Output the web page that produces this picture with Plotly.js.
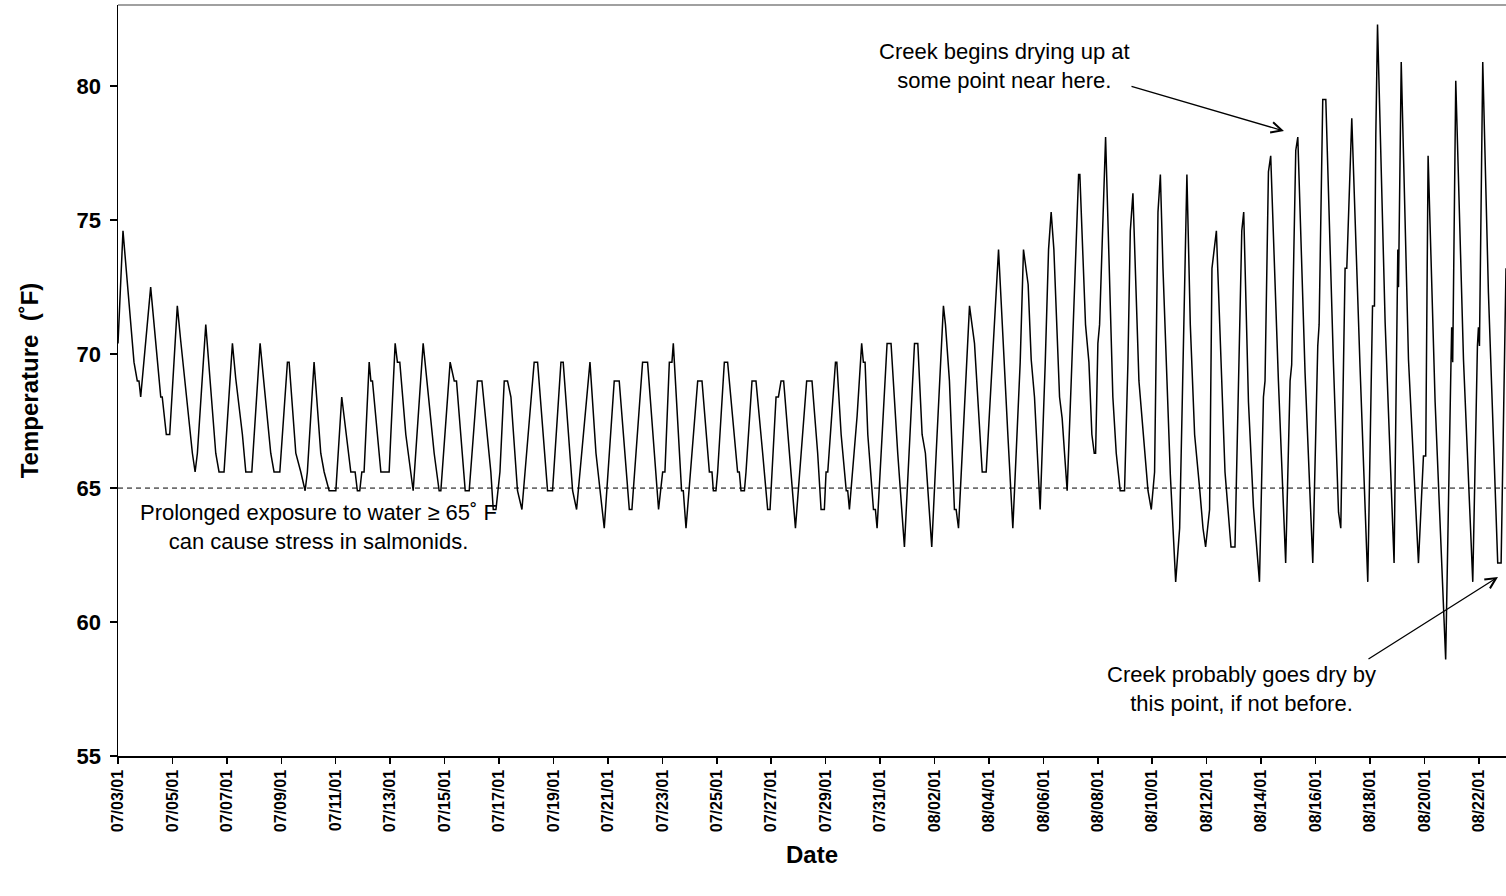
<!DOCTYPE html>
<html>
<head>
<meta charset="utf-8">
<script src="https://cdn.plot.ly/plotly-3.0.1.min.js"></script>
<style>html,body{margin:0;padding:0;background:#fff;}#chart{width:1506px;height:896px;}</style>
</head>
<body>
<div id="chart"></div>
<script>
// Hours elapsed since 07/03/01 00:00
const hoursSinceStart = [
0,4.4,14.1,17.0,18.5,20.0,28.8,37.7,39.0,42.6,45.6,52.3,55.3,65.6,68.0,70.0,77.4,86.2,89.1,93.5,
100.9,103.8,109.7,112.7,118.0,125.3,134.7,137.6,142.7,149.4,150.9,156.8,161.2,165.0,167.0,172.9,178.8,181.8,186.2,192.1,
197.3,205.3,209.1,211.1,213.2,215.0,217.0,221.5,223.0,224.4,231.8,239.1,240.6,244.4,246.4,248.5,253.8,260.3,269.1,278.8,
283.2,284.7,292.9,296.5,298.5,306.2,309.7,317.0,320.9,328.8,330.9,333.3,336.8,340.6,343.5,346.5,352.3,356.2,367.0,370.0,
378.8,383.2,390.6,392.6,400.9,404.4,416.2,421.5,428.8,437.6,442.0,450.9,453.2,462.6,467.0,471.5,476.7,480.3,482.3,486.2,
488.5,489.7,497.0,498.5,500.9,511.2,515.0,521.5,523.8,525.0,527.3,528.8,534.7,537.6,546.4,547.9,549.4,552.4,553.8,559.1,
562.6,568.5,572.9,575.0,580.3,582.4,584.7,587.0,597.4,607.3,612.0,617.0,620.0,622.9,624.4,625.9,632.7,633.9,637.7,642.2,
643.5,645.0,649.4,651.8,655.8,657.3,658.8,661.2,666.2,667.9,669.4,678.2,681.7,687.6,693.5,702.4,705.3,709.1,712.0,717.6,
721.5,727.9,729.7,733.2,737.6,739.1,741.2,750.9,755.3,762.1,765.6,776.5,784.7,789.1,795.6,798.5,802.6,805.3,808.2,813.2,
817.7,820.6,822.9,825.3,830.3,832.6,834.7,837.0,840.6,843.5,847.1,848.2,853.2,856.2,858.8,860.9,862.1,864.1,865.6,870.9,
877.3,880.3,883.8,887.6,890.6,892.7,895.0,900.3,903.9,908.3,911.2,914.1,917.1,919.2,921.5,924.5,928.0,932.7,936.2,938.6,
942.6,945.6,949.4,953.8,956.8,959.1,962.6,964.7,968.6,976.2,981.5,985.0,987.4,991.0,992.7,996.9,1001.3,1006.6,1010.1,1011.5,
1014.5,1016.5,1023.3,1029.7,1033.6,1035.0,1038.6,1040.4,1046.8,1053.6,1058.0,1059.2,1062.4,1065.1,1071.8,1076.3,1078.3,1082.1,1083.6,1088.0,
1095.3,1102.1,1106.3,1108.0,1109.2,1110.7,1117.4,1125.3,1128.6,1129.2,1131.6,1138.0,1146.8,1151.2,1153.2,1155.3,1161.5,1170.8,1175.5,1176.1,
1177.0,1179.7,1186.5,1194.7,1198.8,1199.7,1200.6,1203.5,1208.5,1216.7,1219.7,1224.0
];
// Water temperature (°F)
const temperatureF = [
70.4,74.6,69.7,69.0,69.0,68.4,72.5,68.4,68.4,67.0,67.0,71.8,70.5,66.3,65.6,66.3,71.1,66.3,65.6,65.6,
70.4,69.1,67.0,65.6,65.6,70.4,66.3,65.6,65.6,69.7,69.7,66.3,65.6,64.9,65.6,69.7,66.3,65.6,64.9,64.9,
68.4,65.6,65.6,64.9,64.9,65.6,65.6,69.7,69.0,69.0,65.6,65.6,67.0,70.4,69.7,69.7,67.0,64.9,70.4,66.3,
64.9,64.9,69.7,69.0,69.0,64.9,64.9,69.0,69.0,65.6,64.2,64.2,65.6,69.0,69.0,68.4,64.9,64.2,69.7,69.7,
64.9,64.9,69.7,69.7,64.9,64.2,69.7,66.3,63.5,69.0,69.0,64.2,64.2,69.7,69.7,67.0,64.2,65.6,65.6,69.7,
69.7,70.4,64.9,64.9,63.5,69.0,69.0,65.6,65.6,64.9,64.9,65.6,69.7,69.7,65.6,65.6,64.9,64.9,65.6,69.0,
69.0,66.3,64.2,64.2,68.4,68.4,69.0,69.0,63.5,69.0,69.0,66.3,64.2,64.2,65.6,65.6,69.7,69.7,67.0,64.9,
64.9,64.2,66.3,67.7,70.4,69.7,69.7,67.0,64.2,64.2,63.5,70.4,70.4,66.3,62.8,70.4,70.4,67.0,66.3,62.8,
66.3,71.8,71.1,69.0,64.2,64.2,63.5,71.8,70.4,65.6,65.6,73.9,67.0,63.5,69.7,73.9,72.6,69.8,68.4,64.2,
69.7,73.9,75.3,73.9,68.4,67.6,66.3,64.9,69.0,72.4,76.7,76.7,71.1,69.7,67.0,66.3,66.3,70.4,71.1,78.1,
68.4,66.3,64.9,64.9,69.7,74.6,76.0,69.0,67.0,64.9,64.2,65.6,75.3,76.7,73.2,69.7,65.5,61.5,63.5,68.4,
76.7,71.1,67.0,65.0,63.5,62.8,64.2,73.2,74.6,65.6,62.8,62.8,67.7,74.6,75.3,68.2,64.3,61.5,68.4,69.0,
76.8,77.4,69.0,62.2,69.0,69.6,77.6,78.1,69.3,62.2,70.3,71.1,79.5,79.5,69.7,64.1,63.5,73.2,73.2,78.8,
69.5,61.5,71.8,71.8,78.2,82.3,71.2,62.2,73.9,72.5,80.9,69.8,62.2,66.2,66.2,77.4,68.2,58.6,69.7,71.0,
69.7,80.2,69.8,61.5,70.3,71.0,70.3,80.9,72.3,62.2,62.2,73.2
];
const stressThresholdF = 65;
const axisTitles = { x: 'Date', y: 'Temperature\u00a0\u00a0(˚F)' };
const noteThreshold = 'Prolonged exposure to water ≥ 65˚ F<br>can cause stress in salmonids.';
const noteDrying = 'Creek begins drying up at<br>some point near here.';
const noteDry = 'Creek probably goes dry by<br>this point, if not before.';

const startMs = Date.UTC(2001, 6, 3, 0, 0, 0);
function toDateStr(h) {
  return new Date(startMs + h * 3600000).toISOString().replace('T', ' ').replace('Z', '');
}
const xDates = hoursSinceStart.map(toDateStr);

const FONT = 'Liberation Sans, Arial, sans-serif';
const L = 118, T = 5, W = 1506, H = 896, B = 140;
const plotW = W - L, plotH = H - T - B;
function px(x) { return (x - L) / plotW; }
function py(y) { return (H - B - y) / plotH; }

const trace = {
  x: xDates, y: temperatureF, type: 'scatter', mode: 'lines',
  line: { color: '#000', width: 1.5 }, hoverinfo: 'x+y', showlegend: false
};

const noteFont = { family: FONT, size: 22, color: '#000' };

const layout = {
  width: W, height: H,
  margin: { l: L, r: 0, t: T, b: B, pad: 0 },
  paper_bgcolor: '#fff', plot_bgcolor: '#fff',
  font: { family: FONT, color: '#000' },
  showlegend: false,
  xaxis: {
    type: 'date',
    range: ['2001-07-03 00:00', '2001-08-23 00:00'],
    tick0: '2001-07-03', dtick: 2 * 86400000,
    tickformat: '%m/%d/%y', tickangle: -90,
    ticks: 'outside', ticklen: 6, tickwidth: 1.5, tickcolor: '#000',
    tickfont: { family: FONT, size: 16, weight: 'bold', color: '#000' },
    showline: true, linecolor: '#000', linewidth: 1.5,
    showgrid: false, zeroline: false,
    title: { text: axisTitles.x, font: { family: FONT, size: 24, weight: 'bold', color: '#000' }, standoff: 15 }
  },
  yaxis: {
    range: [55, 83.03],
    tick0: 55, dtick: 5,
    ticks: 'outside', ticklen: 7, tickwidth: 1.5, tickcolor: '#000',
    ticklabelstandoff: 4,
    tickfont: { family: FONT, size: 22, weight: 'bold', color: '#000' },
    showline: true, linecolor: '#000', linewidth: 1.5,
    showgrid: false, zeroline: false,
    title: { text: axisTitles.y, font: { family: FONT, size: 24, weight: 'bold', color: '#000' }, standoff: 31 }
  },
  shapes: [
    { type: 'line', xref: 'paper', x0: 0, x1: 1, yref: 'y', y0: stressThresholdF, y1: stressThresholdF,
      line: { color: '#000', width: 1, dash: '5px,4px' } },
    { type: 'line', xref: 'paper', x0: 0, x1: 1, yref: 'paper', y0: 1, y1: 1,
      line: { color: '#808080', width: 1.5 } }
  ],
  annotations: [
    { xref: 'paper', yref: 'paper', x: px(318), y: py(527), text: noteThreshold, showarrow: false,
      xanchor: 'center', yanchor: 'middle', align: 'center', font: noteFont },
    { xref: 'paper', yref: 'paper', x: px(1004), y: py(66), text: noteDrying, showarrow: false,
      xanchor: 'center', yanchor: 'middle', align: 'center', font: noteFont },
    { xref: 'paper', yref: 'paper', x: px(1241), y: py(689), text: noteDry, showarrow: false,
      xanchor: 'center', yanchor: 'middle', align: 'center', font: noteFont },
    { xref: 'paper', yref: 'paper', x: px(1284), y: py(131), text: '', showarrow: true,
      ax: 1130 - 1284, ay: 86 - 131, arrowhead: 5, arrowsize: 1.6, arrowwidth: 1.3, arrowcolor: '#000', standoff: 0 },
    { xref: 'paper', yref: 'paper', x: px(1498), y: py(577), text: '', showarrow: true,
      ax: 1367 - 1498, ay: 660 - 577, arrowhead: 5, arrowsize: 1.6, arrowwidth: 1.3, arrowcolor: '#000', standoff: 0 }
  ]
};

Plotly.newPlot('chart', [trace], layout, { displayModeBar: false, staticPlot: true });
</script>
</body>
</html>
